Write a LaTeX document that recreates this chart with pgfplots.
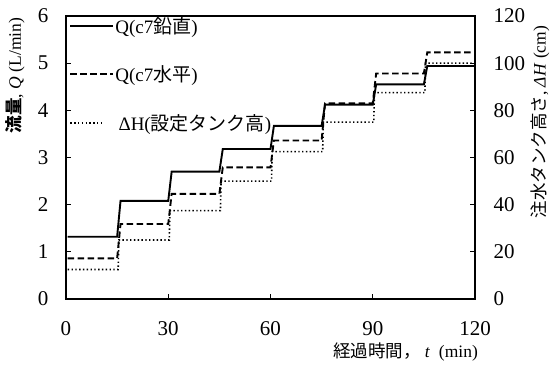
\documentclass[border=0pt]{standalone}
\usepackage{pgfplots}
\pgfplotsset{compat=1.18}
\usepackage{fontspec}
\setmainfont{Liberation Serif}
\newfontfamily\jp{Noto Sans CJK JP}

\pgfplotsset{
  common/.style={
    width=409pt, height=283pt, scale only axis,
    xmin=0, xmax=120,
    axis line style={line width=1.8pt},
    tick style={line width=1.3pt, black},
    major tick length=5pt,
    tick align=inside,
    /pgf/number format/assume math mode=true,
    tick label style={font=\fontsize{21}{24}\selectfont},
    label style={font=\fontsize{17.5}{20}\selectfont},
  },
  qsolid/.style={black, line width=1.9pt},
  qdash/.style={black, line width=1.9pt, dash pattern=on 6.5pt off 3.5pt},
  hdot/.style={black, line width=1.6pt, dash pattern=on 1.4pt off 2.4pt},
  shortleg/.style={legend image code/.code={\draw[##1] (0pt,0pt) -- (33pt,0pt);}},
}

\begin{document}
\begin{tikzpicture}
\begin{axis}[common,
  ymin=0, ymax=6, ytick={0,1,...,6},
  xtick={0,30,...,120},
  xtick pos=bottom, ytick pos=left,
  xticklabel style={yshift=-19pt},
  yticklabel style={xshift=-14pt},
  xlabel={{\jp 経過時間，}\ \textit{t}\ \ (min)},
  xlabel style={at={(axis description cs:0.83,-0.187)}, anchor=center},
  ylabel={{\jp\bfseries 流量}, \textit{Q} (L/min)},
  ylabel style={at={(axis description cs:-0.124,0.79)}, anchor=center, rotate=0},
  legend cell align=left,
  legend style={draw=none, fill=none, font=\fontsize{19}{22}\selectfont,
    at={(axis description cs:0.008,1.0)}, anchor=north west,
    row sep=29pt, inner sep=0pt,
    nodes={inner sep=1pt}},
  legend image code/.code={\draw[#1] (0pt,0pt) -- (43pt,0pt);},
]
% flow rate, vertical orientation
\addplot[qsolid] coordinates {
  (0.5,1.32) (15,1.32) (16,2.08) (30,2.08) (31,2.70) (45,2.70)
  (46,3.18) (60,3.18) (61,3.67) (75,3.67) (76,4.12) (90,4.12)
  (91,4.55) (105,4.55) (106,4.94) (120,4.94)};
\addlegendentry{Q(c7{\jp 鉛直})}
% flow rate, horizontal orientation
\addplot[qdash] coordinates {
  (0.5,0.86) (15,0.86) (16,1.59) (30,1.59) (31,2.23) (45,2.23)
  (46,2.79) (60,2.79) (61,3.36) (75,3.36) (76,4.15) (90,4.15)
  (91,4.78) (105,4.78) (106,5.23) (119.5,5.23)};
\addlegendentry{Q(c7{\jp 水平})}
\addlegendimage{hdot, shortleg}
\addlegendentry{\,ΔH({\jp 設定タンク高})}
\end{axis}

\begin{axis}[common,
  ymin=0, ymax=120, ytick={0,20,...,120},
  axis y line*=right, axis x line=none,
  yticklabel style={xshift=15pt},
  ylabel={{\jp 注水タンク高さ}, \textit{ΔH} (cm)},
  ylabel style={at={(axis description cs:1.159,0.625)}, anchor=center, rotate=0},
]
% tank head setting
\addplot[hdot] coordinates {
  (0.5,12.5) (15.3,12.5) (15.5,25) (30.3,25) (30.5,37.5) (45.3,37.5)
  (45.5,50) (60.3,50) (60.5,62.5) (75.3,62.5) (75.5,75) (90.3,75)
  (90.5,87.5) (105.3,87.5) (105.5,100) (120,100)};
\end{axis}
\path (-66pt,-66pt) rectangle (489pt,299pt);
\end{tikzpicture}
\end{document}
